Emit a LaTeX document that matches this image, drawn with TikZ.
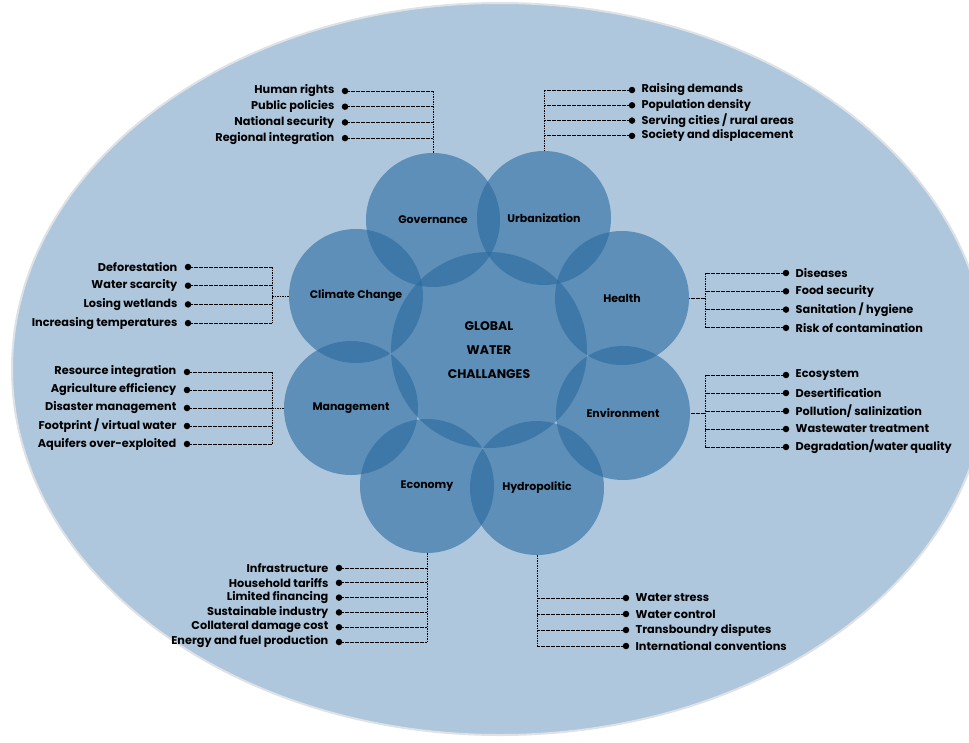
\documentclass[tikz,border=0pt]{standalone}
\usepackage{fontspec}
\setmainfont{Poppins}
\usetikzlibrary{positioning}
\definecolor{paleblue}{RGB}{174,199,221}
\definecolor{ringblue}{RGB}{40,106,160}
\definecolor{rimgray}{RGB}{222,226,230}

\tikzset{
  ring/.style={circle, fill=ringblue, fill opacity=0.6, text opacity=1, inner sep=0pt, minimum size=134pt, font=\bfseries\fontsize{11}{13}\selectfont},
  dot/.style={circle, fill=black, inner sep=0pt, minimum size=6.5pt},
  item/.style={inner sep=0pt, font=\bfseries\fontsize{11.3}{13}\selectfont},
  link/.style={line width=0.9pt, dash pattern=on 1.6pt off 0.9pt}
}

\begin{document}
\begin{tikzpicture}[x=1pt, y=-1pt]
      \useasboundingbox (0,0) rectangle (969,742);
      \clip (0,0) rectangle (969,742);
      \fill[white] (0,0) rectangle (969,742);
      \draw[fill=paleblue, draw=rimgray, line width=2pt] (500,369) ellipse [x radius=488, y radius=366];

      % center and the eight topics
      \node[ring, minimum size=196pt, align=center, font=\bfseries\fontsize{12.5}{24}\selectfont] (core) at (489,350) {GLOBAL\\WATER\\CHALLANGES};
      \node[ring] (gov) at (433,220) {Governance};
      \node[ring] (urb) at (544,218) {Urbanization};
      \node[ring] (hea) at (622,298) {Health};
      \node[ring] (env) at (623,413) {Environment};
      \node[ring] (hyd) at (537,488) {Hydropolitic};
      \node[ring] (eco) at (427,486) {Economy};
      \node[ring] (man) at (351,408) {Management};
      \node[ring] (cli) at (356,296) {Climate Change};

      % Governance
      \foreach \t [count=\i] in {Human rights,Public policies,National security,Regional integration}{
        \node[dot] (gov\i) at (345,{91+15.7*(\i-1)}) {};
        \node[item, left=7pt of gov\i] {\t};
        \draw[link] (gov\i) -- (gov\i -| gov.north);
      }
      \draw[link] (gov1 -| gov.north) -- (gov.north);

      % Urbanization
      \foreach \t [count=\i] in {Raising demands,Population density,Serving cities / rural areas,Society and displacement}{
        \node[dot] (urb\i) at (632,{90+15.3*(\i-1)}) {};
        \node[item, right=6pt of urb\i] {\t};
        \draw[link] (urb\i) -- (urb\i -| urb.north);
      }
      \draw[link] (urb1 -| urb.north) -- (urb.north);

      % Climate Change
      \coordinate (clitrunk) at (272,296);
      \foreach \t [count=\i] in {Deforestation,Water scarcity,Losing wetlands,Increasing temperatures}{
        \node[dot] (cli\i) at (188,{267+18.7*(\i-1)}) {};
        \node[item, left=7pt of cli\i] {\t};
        \draw[link] (cli\i) -- (cli\i -| clitrunk);
      }
      \draw[link] (cli1 -| clitrunk) -- (cli4 -| clitrunk);
      \draw[link] (clitrunk) -- (cli.west);

      % Health
      \coordinate (heatrunk) at (705,298);
      \foreach \t [count=\i] in {Diseases,Food security,Sanitation / hygiene,Risk of contamination}{
        \node[dot] (hea\i) at (786,{273+18.3*(\i-1)}) {};
        \node[item, right=6pt of hea\i] {\t};
        \draw[link] (hea\i) -- (hea\i -| heatrunk);
      }
      \draw[link] (hea1 -| heatrunk) -- (hea4 -| heatrunk);
      \draw[link] (heatrunk) -- (hea.east);

      % Management
      \coordinate (mantrunk) at (272,408);
      \foreach \t [count=\i] in {Resource integration,Agriculture efficiency,Disaster management,Footprint / virtual water,Aquifers over-exploited}{
        \node[dot] (man\i) at (187,{372+18*(\i-1)}) {};
        \node[item, left=7pt of man\i] {\t};
        \draw[link] (man\i) -- (man\i -| mantrunk);
      }
      \draw[link] (man1 -| mantrunk) -- (man5 -| mantrunk);
      \draw[link] (mantrunk) -- (man.west);

      % Environment
      \coordinate (envtrunk) at (705,413);
      \foreach \t [count=\i] in {Ecosystem,Desertification,Pollution/ salinization,Wastewater treatment,Degradation/water quality}{
        \node[dot] (env\i) at (786,{375+18*(\i-1)}) {};
        \node[item, right=6pt of env\i] {\t};
        \draw[link] (env\i) -- (env\i -| envtrunk);
      }
      \draw[link] (env1 -| envtrunk) -- (env5 -| envtrunk);
      \draw[link] (envtrunk) -- (env.east);

      % Economy
      \foreach \t [count=\i] in {Infrastructure,Household tariffs,Limited financing,Sustainable industry,Collateral damage cost,Energy and fuel production}{
        \node[dot] (eco\i) at (339,{568+14.8*(\i-1)}) {};
        \node[item, left=7pt of eco\i] {\t};
        \draw[link] (eco\i) -- (eco\i -| eco.south);
      }
      \draw[link] (eco.south) -- (eco6 -| eco.south);

      % Hydropolitic
      \foreach \t [count=\i] in {Water stress,Water control,Transboundry disputes,International conventions}{
        \node[dot] (hyd\i) at (626,{598+16*(\i-1)}) {};
        \node[item, right=6pt of hyd\i] {\t};
        \draw[link] (hyd\i) -- (hyd\i -| hyd.south);
      }
      \draw[link] (hyd.south) -- (hyd4 -| hyd.south);
\end{tikzpicture}
\end{document}
